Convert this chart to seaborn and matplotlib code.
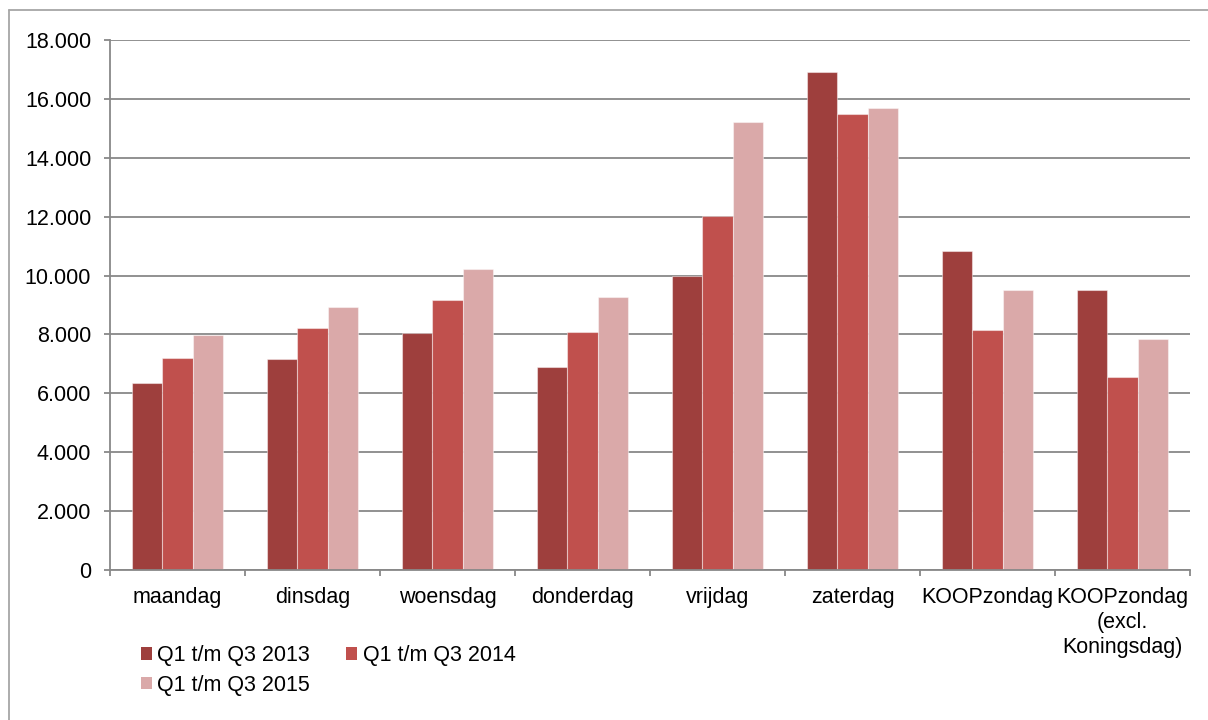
"""
Bezoekers per dag - staafdiagram Q1 t/m Q3 2013/2014/2015
"""
import pandas as pd
import numpy as np
import matplotlib
matplotlib.use('Agg')
import matplotlib.pyplot as plt
import seaborn as sns
from matplotlib.patches import Patch
from matplotlib.lines import Line2D
from matplotlib.ticker import FuncFormatter, FixedLocator

# data
dagen = ['maandag', 'dinsdag', 'woensdag', 'donderdag', 'vrijdag', 'zaterdag',
         'KOOPzondag', 'KOOPzondag\n(excl.\nKoningsdag)']
reeksen = ['Q1 t/m Q3 2013', 'Q1 t/m Q3 2014', 'Q1 t/m Q3 2015']
waarden_2013 = [6350, 7150, 8035, 6900, 9980, 16920, 10840, 9525]
waarden_2014 = [7185, 8225, 9180, 8090, 12010, 15480, 8160, 6560]
waarden_2015 = [7990, 8935, 10215, 9270, 15225, 15695, 9510, 7830]
kleuren = ['#9E3F3D', '#C0504D', '#DAA9A9']
y_ticks = list(range(0, 18001, 2000))

df = pd.DataFrame({
    'dag': dagen * 3,
    'reeks': [reeksen[0]] * 8 + [reeksen[1]] * 8 + [reeksen[2]] * 8,
    'waarde': waarden_2013 + waarden_2014 + waarden_2015,
})

FS = 15.5
sns.set_theme(style='white')
plt.rcParams['font.family'] = ['Liberation Sans', 'DejaVu Sans']
plt.rcParams['font.size'] = FS
plt.rcParams['text.color'] = 'black'

fig = plt.figure(figsize=(12.08, 7.2), dpi=100)
W, H = 1208, 720
ax = fig.add_axes([110 / W, 1 - 570 / H, (1190 - 110) / W, (570 - 40) / H])

sns.barplot(data=df, x='dag', y='waarde', hue='reeks', palette=kleuren,
            width=0.667, ax=ax, legend=False, edgecolor=(1, 1, 1, 0.45),
            linewidth=0.8, errorbar=None, saturation=1)

grijs = '#888888'
ax.set_ylim(0, 18000)
ax.set_xlim(-0.5, len(dagen) - 0.5)
ax.set_yticks(y_ticks)
ax.yaxis.set_major_formatter(FuncFormatter(lambda v, p: f'{int(v):,}'.replace(',', '.')))
ax.yaxis.grid(True, color=grijs, linewidth=1.3)
ax.set_axisbelow(True)
ax.set_xlabel('')
ax.set_ylabel('')

for s in ['top', 'right']:
    ax.spines[s].set_visible(False)
for s in ['left', 'bottom']:
    ax.spines[s].set_color(grijs)
    ax.spines[s].set_linewidth(1.3)

ax.tick_params(axis='y', which='major', left=True, length=4.5, width=1.3,
               color=grijs, pad=9, labelsize=FS, labelcolor='black')
ax.tick_params(axis='x', which='major', length=0, pad=12, labelsize=FS,
               labelcolor='black')
ax.xaxis.set_minor_locator(FixedLocator(np.arange(-0.5, len(dagen), 1.0)))
ax.tick_params(axis='x', which='minor', bottom=True, length=4.5, width=1.3,
               color=grijs)
for lbl in ax.get_xticklabels():
    lbl.set_multialignment('center')
    lbl.set_linespacing(1.25)

# legenda, rij voor rij
handles = [Patch(facecolor=c, edgecolor='none') for c in kleuren]
volgorde = [0, 2, 1]
fig.legend([handles[i] for i in volgorde], [reeksen[i] for i in volgorde],
           ncol=2, loc='upper left', bbox_to_anchor=(141 / W, 1 - 645 / H),
           frameon=False, handlelength=0.5, handleheight=0.55,
           handletextpad=0.25, columnspacing=1.7, labelspacing=0.4,
           borderpad=0, borderaxespad=0, fontsize=FS, labelcolor='black')

# kader rond de grafiek
fig.add_artist(Line2D([9 / W, 1], [1 - 10 / H, 1 - 10 / H], color='#a6a6a6', lw=1.3))
fig.add_artist(Line2D([9 / W, 9 / W], [0, 1 - 10 / H], color='#a6a6a6', lw=1.3))

fig.savefig('out.png', dpi=100)
plt.close()
